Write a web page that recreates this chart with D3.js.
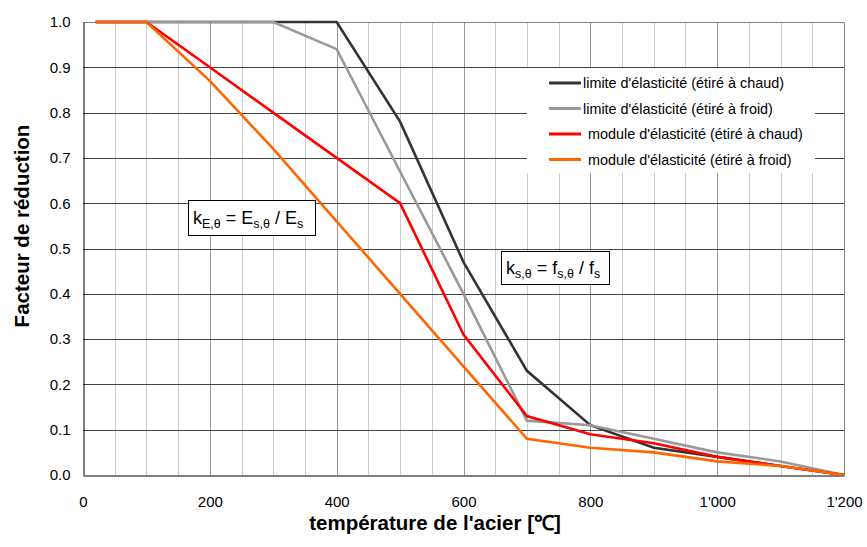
<!DOCTYPE html>
<html>
<head>
<meta charset="utf-8">
<script src="https://cdn.jsdelivr.net/npm/d3@7"></script>
<style>
  body { margin: 0; background: #fff; }
  text { font-family: "Liberation Sans", Arial, sans-serif; }
</style>
</head>
<body>
<div id="chart"></div>
<script>
// data
var temperatures = [20, 100, 200, 300, 400, 500, 600, 700, 800, 900, 1000, 1100, 1200];
var yieldHot = [1, 1, 1, 1, 1, 0.78, 0.47, 0.23, 0.11, 0.06, 0.04, 0.02, 0];
var yieldCold = [1, 1, 1, 1, 0.94, 0.67, 0.40, 0.12, 0.11, 0.08, 0.05, 0.03, 0];
var modulusHot = [1, 1, 0.9, 0.8, 0.7, 0.6, 0.31, 0.13, 0.09, 0.07, 0.04, 0.02, 0];
var modulusCold = [1, 1, 0.87, 0.72, 0.56, 0.40, 0.24, 0.08, 0.06, 0.05, 0.03, 0.02, 0];
var seriesNames = [
  "limite d'élasticité (étiré à chaud)",
  "limite d'élasticité (étiré à froid)",
  "module d'élasticité (étiré à chaud)",
  "module d'élasticité (étiré à froid)"
];
var xTicks = [0, 200, 400, 600, 800, 1000, 1200];
var yTicks = [0, 0.1, 0.2, 0.3, 0.4, 0.5, 0.6, 0.7, 0.8, 0.9, 1.0];

var series = [
  { name: seriesNames[0], values: yieldHot, color: "#333333" },
  { name: seriesNames[1], values: yieldCold, color: "#999999" },
  { name: seriesNames[2], values: modulusHot, color: "#ff0000" },
  { name: seriesNames[3], values: modulusCold, color: "#ff6600" }
];

var svgWidth = 867;
var svgHeight = 547;
var margin = { top: 22, right: 23, bottom: 72, left: 83 };
var width = svgWidth - margin.left - margin.right;
var height = svgHeight - margin.top - margin.bottom;

var svg = d3.select("#chart")
  .append("svg")
  .attr("width", svgWidth)
  .attr("height", svgHeight);

var chartGroup = svg.append("g")
  .attr("transform", `translate(${margin.left}, ${margin.top})`);

var x = d3.scaleLinear().domain([0, 1200]).range([0, width]);
var y = d3.scaleLinear().domain([0, 1]).range([height, 0]);

// vertical grid every 50 degrees, darker on labelled ticks
chartGroup.append("g")
  .selectAll("line")
  .data(d3.range(50, 1200, 50))
  .enter()
  .append("line")
  .attr("x1", d => Math.round(x(d)) + 0.5)
  .attr("x2", d => Math.round(x(d)) + 0.5)
  .attr("y1", 0)
  .attr("y2", height)
  .attr("stroke", d => d % 200 === 0 ? "#999999" : "#cccccc")
  .attr("stroke-width", 1);

// horizontal grid
chartGroup.append("g")
  .selectAll("line")
  .data(yTicks.slice(1, 10))
  .enter()
  .append("line")
  .attr("x1", 0)
  .attr("x2", width)
  .attr("y1", d => Math.round(y(d)) + 0.5)
  .attr("y2", d => Math.round(y(d)) + 0.5)
  .attr("stroke", "#444444")
  .attr("stroke-width", 1);

// frame: grey on top/right, black axes left/bottom
chartGroup.append("path")
  .attr("d", `M0.5,0.5H${width + 0.5}V${height + 0.5}`)
  .attr("fill", "none")
  .attr("stroke", "#808080");

// axes
var bottomAxis = d3.axisBottom(x)
  .tickValues(xTicks)
  .tickSize(0)
  .tickPadding(21)
  .tickFormat(d => d >= 1000 ? Math.floor(d / 1000) + "'" + d3.format("03d")(d % 1000) : d);

var leftAxis = d3.axisLeft(y)
  .tickValues(yTicks)
  .tickSize(0)
  .tickPadding(13)
  .tickFormat(d3.format(".1f"));

var xAxis = chartGroup.append("g")
  .attr("transform", `translate(0, ${height + 0.5})`)
  .call(bottomAxis);

var yAxis = chartGroup.append("g")
  .attr("transform", "translate(0.5, 0)")
  .call(leftAxis);

[xAxis, yAxis].forEach(function(ax) {
  ax.select(".domain").attr("stroke", "#000000");
  ax.selectAll("text")
    .attr("fill", "#000000")
    .style("font-size", "15px")
    .style("font-family", "'Liberation Sans', Arial, sans-serif");
});

// lines
var line = d3.line()
  .x((d, i) => x(temperatures[i]))
  .y(d => y(d));

chartGroup.selectAll(".series")
  .data(series)
  .enter()
  .append("path")
  .attr("class", "series")
  .attr("d", d => line(d.values))
  .attr("fill", "none")
  .attr("stroke", d => d.color)
  .attr("stroke-width", 2.6)
  .attr("stroke-linejoin", "miter");

// legend
var legend = svg.append("g")
  .attr("transform", "translate(527, 68)");

legend.append("rect")
  .attr("width", 288)
  .attr("height", 105)
  .attr("fill", "#ffffff");

var legendItems = legend.selectAll(".item")
  .data(series)
  .enter()
  .append("g")
  .attr("class", "item")
  .attr("transform", (d, i) => `translate(0, ${15 + i * 25.5})`);

legendItems.append("line")
  .attr("x1", 22)
  .attr("x2", 54)
  .attr("stroke", d => d.color)
  .attr("stroke-width", 3);

legendItems.append("text")
  .attr("x", (d, i) => i < 2 ? 56 : 61)
  .attr("dy", "0.35em")
  .style("font-size", "14.4px")
  .text(d => d.name);

// formula boxes
function formulaBox(bx, by, bw, bh, parts) {
  var g = svg.append("g").attr("transform", `translate(${bx}, ${by})`);
  g.append("rect")
    .attr("x", 0.5)
    .attr("y", 0.5)
    .attr("width", bw)
    .attr("height", bh)
    .attr("fill", "#ffffff")
    .attr("stroke", "#000000");
  var t = g.append("text")
    .attr("x", 5)
    .attr("y", bh / 2 + 6)
    .style("font-size", "18px");
  var shift = 0;
  parts.forEach(function(p) {
    var target = p.sub ? 4 : 0;
    t.append("tspan")
      .attr("dy", target - shift)
      .style("font-size", p.sub ? "12.5px" : "18px")
      .text(p.text);
    shift = target;
  });
}

formulaBox(188, 200, 127, 35, [
  { text: "k" }, { text: "E,θ", sub: true }, { text: " = E" },
  { text: "s,θ", sub: true }, { text: " / E" }, { text: "s", sub: true }
]);

formulaBox(501, 251, 108, 33, [
  { text: "k" }, { text: "s,θ", sub: true }, { text: " = f" },
  { text: "s,θ", sub: true }, { text: " / f" }, { text: "s", sub: true }
]);

// axis titles
svg.append("text")
  .attr("x", 435)
  .attr("y", 530)
  .attr("text-anchor", "middle")
  .style("font-size", "20.5px")
  .style("font-weight", "bold")
  .text("température de l'acier [℃]");

svg.append("text")
  .attr("transform", "rotate(-90)")
  .attr("x", -226)
  .attr("y", 29)
  .attr("text-anchor", "middle")
  .style("font-size", "20.5px")
  .style("font-weight", "bold")
  .text("Facteur de réduction");
</script>
</body>
</html>
